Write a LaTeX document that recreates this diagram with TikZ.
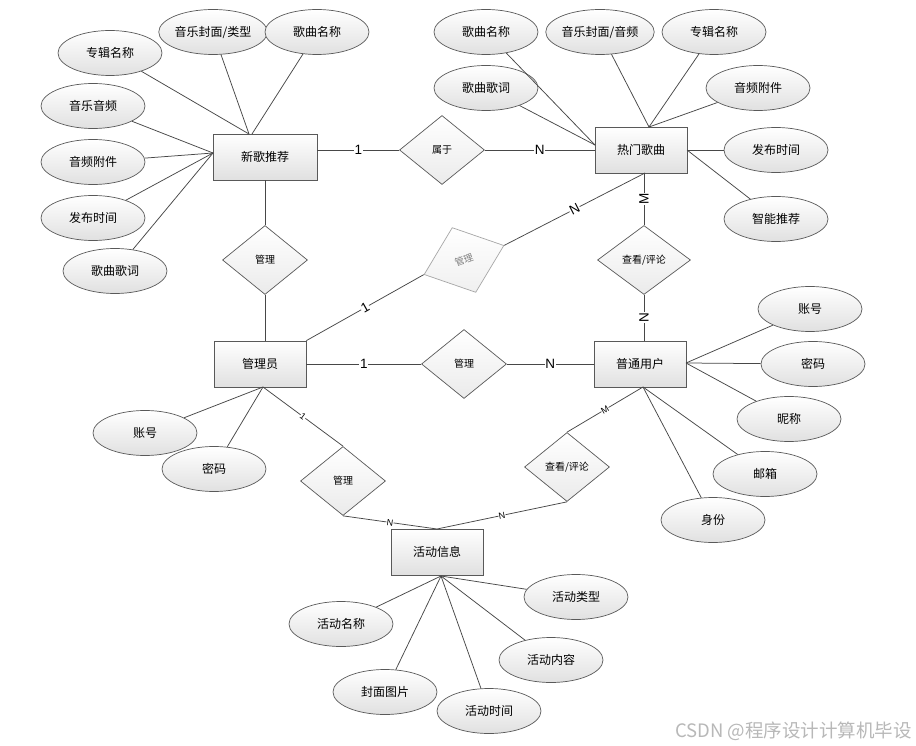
\documentclass[tikz,border=0pt]{standalone}
\usepackage{fontspec}
\setmainfont{Noto Sans CJK SC}
\newfontfamily\lat{Liberation Sans}
\usetikzlibrary{shapes.geometric,shadows}

\begin{document}
\begin{tikzpicture}[x=1pt,y=-1pt,
 attr/.style={ellipse,draw=black!65,line width=0.7pt,top color=white,bottom color=black!12,minimum width=104pt,minimum height=45pt,inner sep=0pt,font=\fontsize{12}{14}\selectfont},
 ent/.style={rectangle,draw=black!65,line width=0.8pt,top color=white,bottom color=black!12,minimum width=92pt,minimum height=46pt,inner sep=0pt,font=\fontsize{12}{14}\selectfont,drop shadow={opacity=0.25,shadow xshift=1.2pt,shadow yshift=-1.2pt}},
 rel/.style={diamond,draw=black!65,line width=0.7pt,top color=white,bottom color=black!8,minimum width=85pt,minimum height=69pt,inner sep=0pt,font=\fontsize{10}{12}\selectfont},
 ln/.style={draw=black!72,line width=0.75pt},
 card/.style={fill=white,inner sep=0.6pt,font=\lat\fontsize{13.5}{14}\selectfont},
 scard/.style={fill=white,inner sep=0.3pt,font=\lat\fontsize{9}{10}\selectfont}]

\path[use as bounding box,fill=white] (0,0) rectangle (916,746);

% entities
\node[ent,minimum width=104pt] (xg) at (265,157) {新歌推荐};
\node[ent] (rm) at (641,150) {热门歌曲};
\node[ent] (gly) at (260,364) {管理员};
\node[ent] (pt) at (640,364) {普通用户};
\node[ent] (hd) at (437,552) {活动信息};

% relations
\node[rel] (sy) at (442,150) {属于};
\node[rel] (gl1) at (265,260) {管理};
\node[rel,draw=black!35,top color=white,bottom color=black!6,text=black!50,rotate=20,font=\fontsize{9.5}{11}\selectfont] (gl2) at (464,260) {管理};
\node[rel] (gl3) at (464,364) {管理};
\node[rel,minimum width=93pt] (ck1) at (644,260) {查看/评论};
\node[rel] (gl4) at (343,481) {管理};
\node[rel] (ck2) at (567,467) {查看/评论};

% anchor points on entities
\coordinate (xgt) at (249,134);
\coordinate (xgt2) at (252,134);
\coordinate (xgl) at (213,153);
\coordinate (rmt) at (649,127);
\coordinate (rml) at (595,145);
\coordinate (rmr) at (687,150);
\coordinate (rmb) at (645,173);
\coordinate (ptr) at (686,363);
\coordinate (ptb) at (643,387);
\coordinate (glyb) at (263,387);
\coordinate (hdt) at (437,529);
\coordinate (hdb) at (441,576);

% attributes of 新歌推荐
\node[attr] (a1) at (110,53) {专辑名称};
\node[attr] (a2) at (213,32) {音乐封面/类型};
\node[attr] (a3) at (317,32) {歌曲名称};
\node[attr] (a4) at (93,106) {音乐音频};
\node[attr] (a5) at (93,162) {音频附件};
\node[attr] (a6) at (93,218) {发布时间};
\node[attr] (a7) at (115,271) {歌曲歌词};
\draw[ln] (xgt) -- (a1);
\draw[ln] (xgt) -- (a2);
\draw[ln] (xgt2) -- (a3);
\draw[ln] (xgl) -- (a4);
\draw[ln] (xgl) -- (a5);
\draw[ln] (xgl) -- (a6);
\draw[ln] (xgl) -- (a7);

% attributes of 热门歌曲
\node[attr] (b1) at (486,32) {歌曲名称};
\node[attr] (b2) at (600,32) {音乐封面/音频};
\node[attr] (b3) at (714,32) {专辑名称};
\node[attr] (b4) at (486,88) {歌曲歌词};
\node[attr] (b5) at (758,88) {音频附件};
\node[attr] (b6) at (776,150) {发布时间};
\node[attr] (b7) at (776,219) {智能推荐};
\draw[ln] (rml) -- (b1);
\draw[ln] (rmt) -- (b2);
\draw[ln] (rmt) -- (b3);
\draw[ln] (rml) -- (b4);
\draw[ln] (rmt) -- (b5);
\draw[ln] (rmr) -- (b6);
\draw[ln] (rmr) -- (b7);

% attributes of 普通用户
\node[attr] (c1) at (810,309) {账号};
\node[attr] (c2) at (813,364) {密码};
\node[attr] (c3) at (789,419) {昵称};
\node[attr] (c4) at (765,474) {邮箱};
\node[attr] (c5) at (713,520) {身份};
\draw[ln] (ptr) -- (c1);
\draw[ln] (ptr) -- (c2);
\draw[ln] (ptr) -- (c3);
\draw[ln] (ptb) -- (c4);
\draw[ln] (ptb) -- (c5);

% attributes of 管理员
\node[attr] (d1) at (145,433) {账号};
\node[attr] (d2) at (214,469) {密码};
\draw[ln] (glyb) -- (d1);
\draw[ln] (glyb) -- (d2);

% attributes of 活动信息
\node[attr] (e1) at (341,624) {活动名称};
\node[attr] (e2) at (576,597) {活动类型};
\node[attr] (e3) at (551,660) {活动内容};
\node[attr] (e4) at (385,692) {封面图片};
\node[attr] (e5) at (489,711) {活动时间};
\draw[ln] (hdb) -- (e1);
\draw[ln] (hdb) -- (e2);
\draw[ln] (hdb) -- (e3);
\draw[ln] (hdb) -- (e4);
\draw[ln] (hdb) -- (e5);

% relationship connectors
\draw[ln] (xg.east |- sy) -- node[card]{1} (sy);
\draw[ln] (sy) -- node[card]{N} (rm.west |- sy);
\draw[ln] (xg.south -| gl1) -- (gl1);
\draw[ln] (gl1) -- (gly.north -| gl1);
\draw[ln] (gly.north east) -- node[card,sloped]{1} (gl2.west);
\draw[ln] (gl2.east) -- node[card,sloped]{N} (rmb);
\draw[ln] (rm.south -| ck1) -- node[card,rotate=90]{M} (ck1);
\draw[ln] (ck1) -- node[card,rotate=90]{N} (pt.north -| ck1);
\draw[ln] (gly.east) -- node[card]{1} (gl3);
\draw[ln] (gl3) -- node[card]{N} (pt.west);
\draw[ln] (ptb) -- node[scard,sloped]{M} (ck2.north);
\draw[ln] (ck2.south) -- node[scard,sloped]{N} (hdt);
\draw[ln] (glyb) -- node[scard,sloped]{1} (gl4.north);
\draw[ln] (gl4.south) -- node[scard,sloped]{N} (hdt);

% watermark
\node[anchor=east,text=black!28,inner sep=0pt,font=\fontsize{18.5}{20}\selectfont] (wm) at (912,731) {CSDN @程序设计计算机毕设};
\end{tikzpicture}
\end{document}
